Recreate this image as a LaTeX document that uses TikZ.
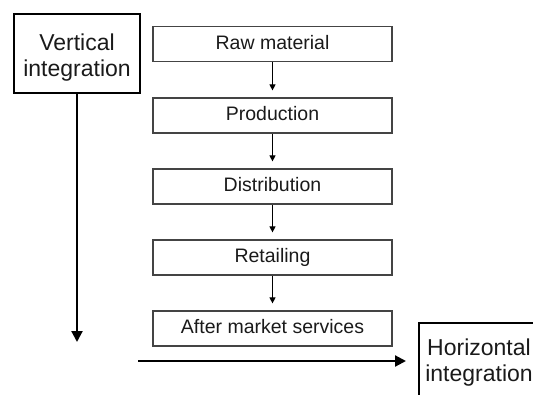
\documentclass[tikz,border=0pt]{standalone}
\usepackage{fontspec}
\setmainfont{Liberation Sans}
\usetikzlibrary{arrows.meta}
\definecolor{boxline}{HTML}{444444}
\definecolor{txt}{HTML}{1A1A1A}
\begin{document}
\begin{tikzpicture}[x=1pt,y=-1pt,
  stage/.style={draw=boxline, line width=1.2pt, minimum width=239pt, minimum height=35pt, inner sep=0pt, text height=14pt, text depth=4pt, font=\fontsize{19.5}{22}\selectfont, text=txt},
  sideframe/.style={draw=black, line width=2.4pt, inner sep=0pt},
  sidetext/.style={align=center, inner sep=0pt, anchor=north, font=\fontsize{23}{26}\selectfont, text=txt},
  flow/.style={draw=black, line width=1pt, -{Triangle[length=6pt,width=6pt]}, shorten >=7pt},
  bigarrow/.style={draw=black, line width=2.2pt, -{Triangle[length=11pt,width=11pt]}}
]
\useasboundingbox (0,0) rectangle (533,394);
\clip (0,0) rectangle (533,394);

% stages
\node[stage] (raw)  at (272.5,44)    {Raw material};
\node[stage] (prod) at (272.5,115.5) {Production};
\node[stage] (dist) at (272.5,186.5) {Distribution};
\node[stage] (ret)  at (272.5,257.5) {Retailing};
\node[stage] (aft)  at (272.5,328.5) {After market services};

\draw[flow] (raw.south)  -- (prod.north);
\draw[flow] (prod.south) -- (dist.north);
\draw[flow] (dist.south) -- (ret.north);
\draw[flow] (ret.south)  -- (aft.north);

% vertical integration
\node[sideframe, minimum width=126pt, minimum height=79pt] (vi) at (77,53.5) {};
\node[sidetext] (vit) at (77,34) {Vertical\\integration};
\coordinate (vend) at (77,342);
\draw[bigarrow] (vi.south) -- (vend);

% horizontal integration
\node[sideframe, anchor=north west, minimum width=140pt, minimum height=100pt] (hi) at (418,322) {};
\node[sidetext] (hit) at (479,338.5) {Horizontal\\integration};
\coordinate (hstart) at (138,361);
\coordinate (hend) at (406,361);
\draw[bigarrow] (hstart) -- (hend);
\end{tikzpicture}
\end{document}
